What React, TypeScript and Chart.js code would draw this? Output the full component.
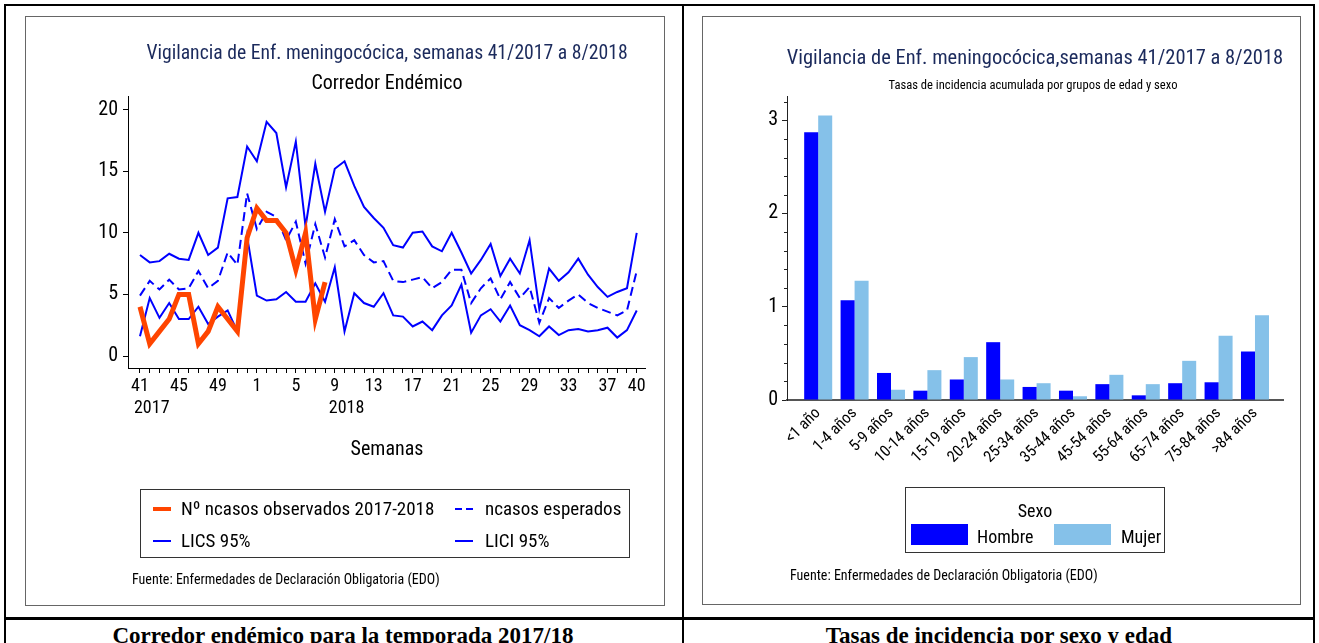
import React, { useEffect, useRef } from "react";
import { Chart, registerables } from "chart.js";
Chart.register(...registerables);

const FONT = '"Roboto Condensed", "Liberation Sans Narrow", "Arial Narrow", sans-serif';
const SERIF = '"Liberation Serif", "Times New Roman", serif';
const NAVY = "#1b2a5c";
const BLUE = "#0000ff";
const ORANGE = "#ff4500";
const LIGHT = "#85c1e9";

// ---- Left chart: corredor endémico ----
const weeks = [
  "41", "42", "43", "44", "45", "46", "47", "48", "49", "50", "51", "52",
  "1", "2", "3", "4", "5", "6", "7", "8", "9", "10", "11", "12", "13", "14", "15", "16", "17", "18", "19", "20",
  "21", "22", "23", "24", "25", "26", "27", "28", "29", "30", "31", "32", "33", "34", "35", "36", "37", "38", "39", "40",
];
const weekTickLabels = ["41", "45", "49", "1", "5", "9", "13", "17", "21", "25", "29", "33", "37", "40"];
const yearLabels = ["2017", "2018"];
const yearLabelWeeks = ["41", "9"];
const yTicksLeft = [0, 5, 10, 15, 20];

const observed = [4, 1, 2, 3, 5, 5, 1, 2, 4, 3, 2, 9.6, 12, 11, 11, 10, 7, 10, 3, 6];
const expected = [
  4.9, 6.1, 5.4, 6.2, 5.4, 5.5, 6.9, 5.5, 6.1, 8.4, 7.4, 13.2, 10.3, 11.7, 11.3, 9.4, 10.9, 7.5, 10.7, 8.0,
  11.1, 8.9, 9.4, 8.2, 7.6, 7.7, 6.1, 6.0, 6.2, 6.4, 5.5, 6.0, 7.0, 7.0, 4.3, 5.5, 6.3, 4.6, 6.0, 4.7,
  5.6, 2.7, 4.7, 3.9, 4.5, 5.0, 4.3, 3.9, 3.6, 3.3, 3.7, 6.9,
];
const lics = [
  8.2, 7.6, 7.7, 8.3, 7.9, 7.8, 10.0, 8.2, 8.8, 12.8, 12.9, 17.0, 15.8, 19.0, 18.1, 13.7, 17.4, 10.5, 15.6, 11.7,
  15.2, 15.8, 13.8, 12.1, 11.2, 10.4, 9.0, 8.8, 10.0, 10.1, 8.9, 8.5, 10.0, 8.4, 6.7, 7.8, 9.1, 6.5, 7.9, 6.7,
  9.4, 3.8, 7.1, 6.1, 6.8, 7.9, 6.6, 5.6, 4.8, 5.2, 5.5, 10.0,
];
const lici = [
  1.6, 4.7, 3.1, 4.3, 3.0, 3.0, 4.0, 2.6, 3.2, 3.7, 2.0, 9.7, 4.9, 4.5, 4.6, 5.2, 4.4, 4.4, 5.9, 4.4,
  7.2, 2.0, 5.1, 4.3, 4.0, 5.1, 3.3, 3.2, 2.4, 2.8, 2.1, 3.3, 4.1, 5.8, 1.9, 3.3, 3.8, 2.8, 4.1, 2.5,
  2.1, 1.6, 2.4, 1.7, 2.1, 2.2, 2.0, 2.1, 2.3, 1.5, 2.1, 3.7,
];

// ---- Right chart: tasas por edad y sexo ----
const ageGroups = [
  "<1 año", "1-4 años", "5-9 años", "10-14 años", "15-19 años", "20-24 años", "25-34 años",
  "35-44 años", "45-54 años", "55-64 años", "65-74 años", "75-84 años", ">84 años",
];
const hombre = [2.87, 1.07, 0.29, 0.10, 0.22, 0.62, 0.14, 0.10, 0.17, 0.05, 0.18, 0.19, 0.52];
const mujer = [3.05, 1.28, 0.11, 0.32, 0.46, 0.22, 0.18, 0.04, 0.27, 0.17, 0.42, 0.69, 0.91];
const yTicksRight = [0, 1, 2, 3];

const toPts = (arr: number[]) => arr.map((y, i) => ({ x: i, y }));

const yearPlugin = {
  id: "yearLabels",
  afterDraw(chart: any) {
    const xs = chart.scales.x;
    const ctx = chart.ctx;
    ctx.save();
    ctx.fillStyle = "#000";
    ctx.font = `18px ${FONT}`;
    ctx.textAlign = "left";
    ctx.textBaseline = "middle";
    yearLabels.forEach((t, k) => {
      const idx = weeks.indexOf(yearLabelWeeks[k]);
      ctx.fillText(t, xs.getPixelForValue(idx) - 6, xs.top + 40);
    });
    ctx.restore();
  },
};

const minorTickPlugin = {
  id: "minorTicks",
  afterDraw(chart: any) {
    const ys = chart.scales.y;
    const ctx = chart.ctx;
    const x = chart.chartArea.left;
    ctx.save();
    ctx.strokeStyle = "#222";
    ctx.lineWidth = 1;
    for (let k = 1; k < 17; k++) {
      if (k % 5 === 0) continue;
      const v = k * 0.2;
      if (v > ys.max) break;
      const y = Math.round(ys.getPixelForValue(v)) + 0.5;
      ctx.beginPath();
      ctx.moveTo(x - 3, y);
      ctx.lineTo(x, y);
      ctx.stroke();
    }
    ctx.restore();
  },
};

function leftConfig(): any {
  return {
    type: "line",
    data: {
      datasets: [
        { label: "Nº ncasos observados 2017-2018", data: toPts(observed), borderColor: ORANGE, borderWidth: 5, pointRadius: 0, tension: 0 },
        { label: "ncasos esperados", data: toPts(expected), borderColor: BLUE, borderWidth: 2, borderDash: [9, 5], pointRadius: 0, tension: 0 },
        { label: "LICS 95%", data: toPts(lics), borderColor: BLUE, borderWidth: 2, pointRadius: 0, tension: 0 },
        { label: "LICI 95%", data: toPts(lici), borderColor: BLUE, borderWidth: 2, pointRadius: 0, tension: 0 },
      ],
    },
    options: {
      animation: false,
      responsive: false,
      layout: { padding: { top: 80, right: 20, left: 0, bottom: 0 } },
      plugins: { legend: { display: false }, title: { display: false }, tooltip: { enabled: false } },
      scales: {
        x: {
          type: "linear",
          bounds: "data",
          min: -1.23,
          max: 51.85,
          afterBuildTicks: (s: any) => { s.ticks = weeks.map((_, i) => ({ value: i })); },
          afterFit: (s: any) => { s.height = 238; },
          grid: { display: true, drawOnChartArea: false, drawTicks: true, tickLength: 5, color: "#000", lineWidth: 1 },
          border: { display: true, color: "#000", width: 1 },
          ticks: {
            autoSkip: false, maxRotation: 0, minRotation: 0, padding: 3, color: "#000",
            font: { family: FONT, size: 18 },
            callback: (v: number) => (weekTickLabels.includes(weeks[v]) ? weeks[v] : ""),
          },
        },
        y: {
          type: "linear",
          bounds: "data",
          min: -0.97,
          max: 21.1,
          afterBuildTicks: (s: any) => { s.ticks = yTicksLeft.map((v) => ({ value: v })); },
          afterFit: (s: any) => { s.width = 103; },
          grid: { display: true, drawOnChartArea: false, drawTicks: true, tickLength: 5, color: "#000", lineWidth: 1 },
          border: { display: true, color: "#000", width: 1 },
          ticks: { padding: 5, color: "#000", font: { family: FONT, size: 20 } },
        },
      },
    },
    plugins: [yearPlugin],
  };
}

function rightConfig(): any {
  return {
    type: "bar",
    data: {
      datasets: [
        { label: "Hombre", data: toPts(hombre), backgroundColor: BLUE, borderWidth: 0, categoryPercentage: 0.77, barPercentage: 1 },
        { label: "Mujer", data: toPts(mujer), backgroundColor: LIGHT, borderWidth: 0, categoryPercentage: 0.77, barPercentage: 1 },
      ],
    },
    options: {
      animation: false,
      responsive: false,
      layout: { padding: { top: 80, right: 18, left: 0, bottom: 0 } },
      plugins: { legend: { display: false }, title: { display: false }, tooltip: { enabled: false } },
      scales: {
        x: {
          type: "linear",
          bounds: "data",
          offset: false,
          min: -0.857,
          max: 12.77,
          afterBuildTicks: (s: any) => { s.ticks = ageGroups.map((_, i) => ({ value: i })); },
          afterFit: (s: any) => { s.height = 205; },
          grid: { display: false, drawTicks: false },
          border: { display: true, color: "#555", width: 2 },
          ticks: {
            autoSkip: false, maxRotation: 45, minRotation: 45, padding: 4, color: "#000",
            font: { family: FONT, size: 16 },
            callback: (v: number) => ageGroups[v] ?? "",
          },
        },
        y: {
          type: "linear",
          bounds: "data",
          min: 0,
          max: 3.26,
          afterBuildTicks: (s: any) => { s.ticks = yTicksRight.map((v) => ({ value: v })); },
          afterFit: (s: any) => { s.width = 85; },
          grid: { display: true, drawOnChartArea: false, drawTicks: true, tickLength: 5, color: "#222", lineWidth: 1 },
          border: { display: true, color: "#222", width: 1 },
          ticks: { padding: 4, color: "#000", font: { family: FONT, size: 20 } },
        },
      },
    },
    plugins: [minorTickPlugin],
  };
}

type TP = { x: number; y: number; text: string; size: number; color?: string; align?: "left" | "center"; family?: string; weight?: string };
function T({ x, y, text, size, color = "#000", align = "left", family = FONT, weight = "normal" }: TP) {
  const lh = Math.round(size * 1.25);
  const base: React.CSSProperties = {
    position: "absolute", top: y - lh / 2, lineHeight: `${lh}px`, fontSize: size, fontFamily: family,
    color, whiteSpace: "nowrap", fontWeight: weight as any,
  };
  if (align === "center") return <div style={{ ...base, left: x - 400, width: 800, textAlign: "center" }}>{text}</div>;
  return <div style={{ ...base, left: x }}>{text}</div>;
}

function R(x: number, y: number, w: number, h: number, bg: string, extra: React.CSSProperties = {}) {
  return <div style={{ position: "absolute", left: x, top: y, width: w, height: h, background: bg, ...extra }} />;
}

export default function App() {
  const leftRef = useRef<HTMLCanvasElement>(null);
  const rightRef = useRef<HTMLCanvasElement>(null);
  useEffect(() => {
    const c1 = new Chart(leftRef.current as HTMLCanvasElement, leftConfig());
    const c2 = new Chart(rightRef.current as HTMLCanvasElement, rightConfig());
    return () => { c1.destroy(); c2.destroy(); };
  }, []);

  return (
    <div style={{ position: "absolute", left: 0, top: 0, width: 1319, height: 643, overflow: "hidden", background: "#fff" }}>
      {/* outer table */}
      {R(4, 4, 1311, 2, "#000")}
      {R(4, 4, 2, 660, "#000")}
      {R(1313, 4, 2, 660, "#000")}
      {R(682, 4, 2, 660, "#000")}
      {R(4, 617, 1311, 3, "#000")}
      {/* inner boxes */}
      <div style={{ position: "absolute", left: 25, top: 16, width: 640, height: 590, border: "1px solid #666", boxSizing: "border-box" }} />
      <div style={{ position: "absolute", left: 702, top: 16, width: 599, height: 589, border: "1px solid #666", boxSizing: "border-box" }} />

      {/* left panel */}
      <canvas ref={leftRef} width={640} height={590} style={{ position: "absolute", left: 25, top: 16, width: 640, height: 590 }} />
      <T x={387} y={52} text="Vigilancia de Enf. meningocócica, semanas 41/2017 a 8/2018" size={19.7} color={NAVY} align="center" />
      <T x={387} y={82} text="Corredor Endémico" size={20} align="center" />
      <T x={387} y={448} text="Semanas" size={20} align="center" />
      <div style={{ position: "absolute", left: 140, top: 489, width: 490, height: 69, border: "1px solid #333", boxSizing: "border-box" }} />
      {R(153, 507, 18, 4, ORANGE)}
      <T x={181} y={509} text="Nº ncasos observados 2017-2018" size={19} />
      {R(455, 508, 7, 2, BLUE)}
      {R(466, 508, 7, 2, BLUE)}
      <T x={485} y={509} text="ncasos esperados" size={19} />
      {R(153, 540, 18, 2, BLUE)}
      <T x={181} y={541} text="LICS 95%" size={19} />
      {R(455, 540, 18, 2, BLUE)}
      <T x={485} y={541} text="LICI 95%" size={19} />
      <T x={132} y={579} text="Fuente: Enfermedades de Declaración Obligatoria (EDO)" size={14} />

      {/* right panel */}
      <canvas ref={rightRef} width={599} height={589} style={{ position: "absolute", left: 702, top: 16, width: 599, height: 589 }} />
      <T x={1035} y={57} text="Vigilancia de Enf. meningocócica,semanas 41/2017 a 8/2018" size={20.5} color={NAVY} align="center" />
      <T x={1033} y={85} text="Tasas de incidencia acumulada por grupos de edad y sexo" size={12.6} align="center" />
      <div style={{ position: "absolute", left: 905, top: 487, width: 260, height: 66, border: "1px solid #333", boxSizing: "border-box" }} />
      <T x={1035} y={510} text="Sexo" size={18} align="center" />
      {R(911, 524, 57, 21, BLUE)}
      <T x={977} y={536} text="Hombre" size={18} />
      {R(1054, 524, 57, 21, LIGHT)}
      <T x={1121} y={536} text="Mujer" size={18} />
      <T x={790} y={575} text="Fuente: Enfermedades de Declaración Obligatoria (EDO)" size={14} />

      {/* captions */}
      <T x={343} y={635} text="Corredor endémico para la temporada 2017/18" size={23} family={SERIF} weight="bold" align="center" />
      <T x={999} y={635} text="Tasas de incidencia por sexo y edad" size={23} family={SERIF} weight="bold" align="center" />
    </div>
  );
}
